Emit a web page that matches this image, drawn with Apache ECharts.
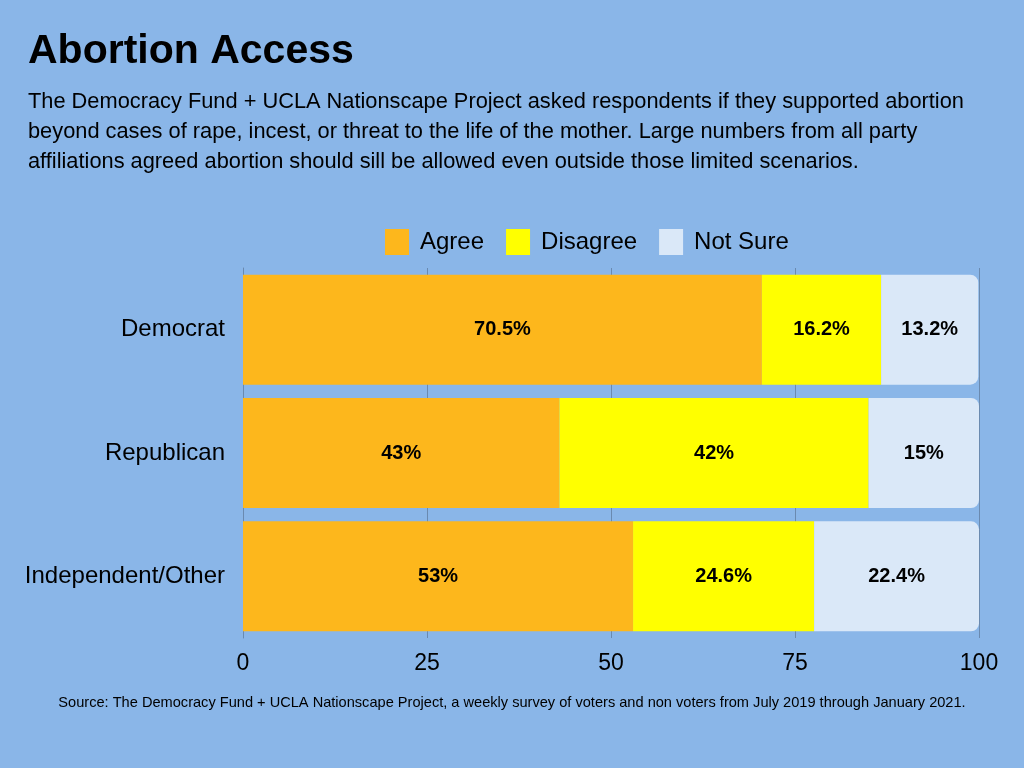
<!DOCTYPE html>
<html><head><meta charset="utf-8">
<script src="https://cdn.jsdelivr.net/npm/echarts@6/dist/echarts.min.js"></script>
<style>html,body{margin:0;padding:0;background:#8AB6E8}#c{width:1024px;height:768px}</style>
</head><body><div id="c"></div>
<script>
const categories = ['Democrat','Republican','Independent/Other'];
const agree = [70.5, 43, 53];
const disagree = [16.2, 42, 24.6];
const notSure = [13.2, 15, 22.4];
const agreeLabels = ['70.5%','43%','53%'];
const disagreeLabels = ['16.2%','42%','24.6%'];
const notSureLabels = ['13.2%','15%','22.4%'];

const chart = echarts.init(document.getElementById('c'));
const lbl = (arr) => ({show:true, position:'inside', color:'#000', fontWeight:'bold', fontSize:20, fontFamily:'Liberation Sans', formatter:p=>arr[p.dataIndex]});
chart.setOption({
  backgroundColor:'#8AB6E8',
  title:[
    {text:'Abortion Access', left:23, top:26, textStyle:{fontSize:41, fontWeight:'bold', color:'#000', fontFamily:'Liberation Sans'}},
    {text:'The Democracy Fund + UCLA Nationscape Project asked respondents if they supported abortion\nbeyond cases of rape, incest, or threat to the life of the mother. Large numbers from all party\naffiliations agreed abortion should sill be allowed even outside those limited scenarios.',
     left:23, top:82, textStyle:{fontSize:21.8, fontWeight:'normal', color:'#000', lineHeight:30, fontFamily:'Liberation Sans'}},
    {text:'Source: The Democracy Fund + UCLA Nationscape Project, a weekly survey of voters and non voters from July 2019 through January 2021.',
     left:'center', top:690, textStyle:{fontSize:14.6, fontWeight:'normal', color:'#000', fontFamily:'Liberation Sans'}}
  ],
  legend:{top:224, left:380, itemWidth:24, itemHeight:26, itemGap:22, icon:'rect',
    textStyle:{fontSize:24, color:'#000', fontFamily:'Liberation Sans', padding:[0,0,0,6]},
    data:['Agree','Disagree','Not Sure']},
  grid:{left:243, right:45, top:268, bottom:130},
  xAxis:{type:'value', min:0, max:100, interval:25,
    axisLabel:{fontSize:23, color:'#000', margin:14, fontFamily:'Liberation Sans'},
    splitLine:{show:true, lineStyle:{color:'#6A8AB0', width:1}},
    axisLine:{show:false}, axisTick:{show:false}},
  yAxis:{type:'category', data:categories, inverse:true,
    axisLabel:{fontSize:24, color:'#000', margin:18, fontFamily:'Liberation Sans'},
    axisLine:{show:true, lineStyle:{color:'#6A8AB0'}}, axisTick:{show:false}},
  series:[
    {name:'Agree', type:'bar', stack:'a', barWidth:110, data:agree, itemStyle:{color:'#FDB71C'}, label:lbl(agreeLabels)},
    {name:'Disagree', type:'bar', stack:'a', data:disagree, itemStyle:{color:'#FFFF00'}, label:lbl(disagreeLabels)},
    {name:'Not Sure', type:'bar', stack:'a', data:notSure, itemStyle:{color:'#DAE8F8', borderRadius:[0,8,8,0]}, label:lbl(notSureLabels)}
  ]
});
</script></body></html>
